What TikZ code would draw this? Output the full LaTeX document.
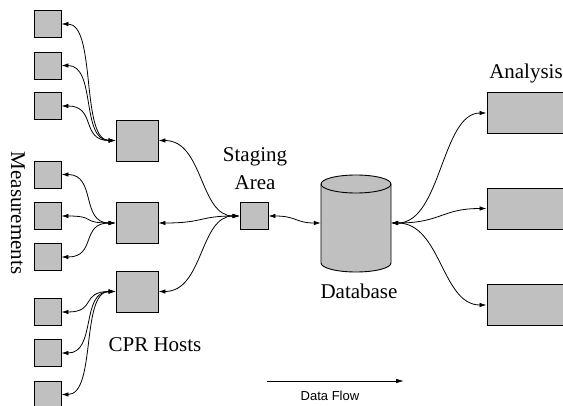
\documentclass[tikz,border=0pt]{standalone}
\usepackage{fontspec}
\setmainfont{Liberation Serif}
\newfontfamily\flowfont{Liberation Sans}
\usetikzlibrary{arrows.meta}
\definecolor{boxgray}{RGB}{192,192,192}
\begin{document}
\begin{tikzpicture}[x=1pt,y=1pt,
  boxbase/.style={draw=black, fill=boxgray, line width=0.9pt, inner sep=0pt},
  meas/.style={boxbase, minimum width=27pt, minimum height=27pt},
  host/.style={boxbase, minimum width=42pt, minimum height=41pt},
  stagebox/.style={boxbase, minimum width=28pt, minimum height=27pt},
  anabox/.style={boxbase, minimum width=90pt, minimum height=41pt},
  conn/.style={line width=0.8pt, {Latex[length=7pt,width=4.5pt]}-{Latex[length=7pt,width=4.5pt]}},
  lbl/.style={font=\fontsize{21}{28}\selectfont, inner sep=0pt, align=center}
]
\clip (0,0) rectangle (563,405);
\fill[white] (0,0) rectangle (563,405);

% measurement boxes
\node[meas] (m1) at (47.5,381) {};
\node[meas] (m2) at (47.5,339.5) {};
\node[meas] (m3) at (47.5,299) {};
\node[meas] (m4) at (47.5,230.5) {};
\node[meas] (m5) at (47.5,189) {};
\node[meas] (m6) at (47.5,148) {};
\node[meas] (m7) at (47.5,93) {};
\node[meas] (m8) at (47.5,52) {};
\node[meas] (m9) at (47.5,10.5) {};

% CPR hosts
\node[host] (h1) at (137,264.5) {};
\node[host] (h2) at (137,182) {};
\node[host] (h3) at (137,113.5) {};

% staging
\node[stagebox] (st) at (254,189) {};

% database
\node[minimum width=70pt, minimum height=97pt, inner sep=0pt] (db) at (356,182) {};
\filldraw[fill=boxgray, line width=0.9pt]
  (321,221) -- (321,142) arc[start angle=180, end angle=360, x radius=35pt, y radius=9pt]
  -- (391,221) arc[start angle=0, end angle=180, x radius=35pt, y radius=9pt] -- cycle;
\draw[line width=0.9pt] (321,221) arc[start angle=180, end angle=360, x radius=35pt, y radius=9pt];

% analysis boxes
\node[anabox] (a1) at (532,292) {};
\node[anabox] (a2) at (532,196.5) {};
\node[anabox] (a3) at (532,100) {};

% labels
\node[lbl] (lstage) at (255,236) {Staging\\Area};
\node[lbl] (lana) at (526,332) {Analysis};
\node[lbl] (lcpr) at (155,60) {CPR Hosts};
\node[lbl] (ldb) at (359,114) {Database};
\node[lbl, rotate=-90] (lmeas) at (18,192) {Measurements};

% measurement <-> hosts
\foreach \m/\h in {m1/h1,m2/h1,m3/h1,m4/h2,m5/h2,m6/h2,m7/h3,m8/h3,m9/h3}
  \draw[conn] (\m.east) .. controls +(35,0) and +(-35,0) .. (\h.west);

% hosts <-> staging
\foreach \h in {h1,h2,h3}
  \draw[conn] (\h.east) .. controls +(45,0) and +(-40,0) .. (st.west);

% staging <-> database
\draw[conn] (st.east) .. controls +(28,0) and +(-25,0) .. (db.west);

% database <-> analysis
\foreach \a in {a1,a2,a3}
  \draw[conn] (db.east) .. controls +(50,0) and +(-45,0) .. (\a.west);

% data flow
\coordinate (dfs) at (267,24);
\coordinate (dfe) at (404,24);
\draw[line width=0.8pt, -{Latex[length=8pt,width=4.5pt]}] (dfs) -- (dfe);
\node[font=\flowfont\fontsize{13}{15}\selectfont, inner sep=0pt] (ldf) at (330,9) {Data Flow};
\end{tikzpicture}
\end{document}
